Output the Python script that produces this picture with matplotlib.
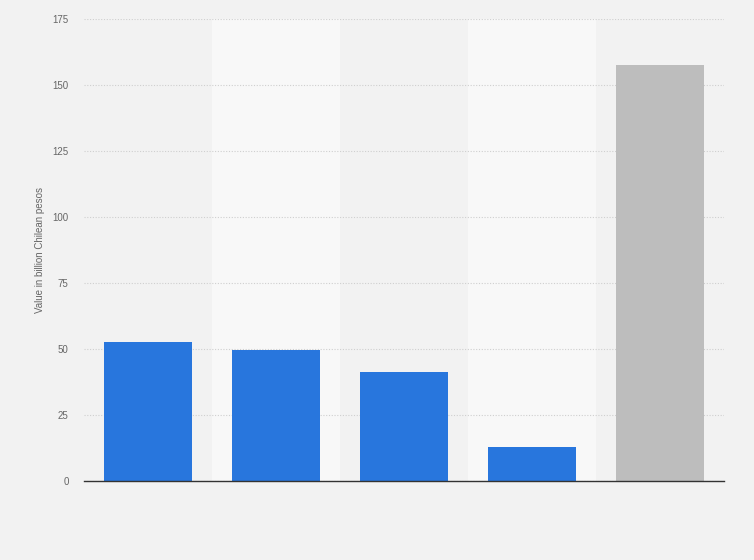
import matplotlib
matplotlib.use("Agg")
import matplotlib.pyplot as plt
from matplotlib import font_manager as fm

categories = ["A", "B", "C", "D", "Total"]
values = [52.5, 49.8, 41.2, 12.9, 157.7]
colors = ["#2876dd", "#2876dd", "#2876dd", "#2876dd", "#bdbdbd"]
yticks = [0, 25, 50, 75, 100, 125, 150, 175]
ylabel = "Value in billion Chilean pesos"

fprop = None
for f in fm.findSystemFonts():
    if f.endswith("LiberationSans-Regular.ttf"):
        fprop = fm.FontProperties(fname=f, size=7)
        break
if fprop is None:
    fprop = fm.FontProperties(family=['Liberation Sans', 'DejaVu Sans'], size=7)

fig = plt.figure(figsize=(7.54, 5.60), dpi=100)
fig.patch.set_facecolor("#f2f2f2")
ax = fig.add_axes([84/754, 1-481/560, 640/754, 462/560])
ax.set_facecolor("#f2f2f2")

x = list(range(len(categories)))
for i in x:
    if i % 2 == 1:
        ax.axvspan(i - 0.5, i + 0.5, color="#f8f8f8", zorder=0, lw=0)

ax.bar(x, values, width=0.69, color=colors, zorder=3, edgecolor="none")

ax.set_xlim(-0.5, len(categories) - 0.5)
ax.set_ylim(0, 175)
ax.set_yticks(yticks)
ax.set_yticklabels([str(t) for t in yticks], fontproperties=fprop, color="#666666")
ax.set_xticks([])
ax.tick_params(axis="y", length=0, pad=11)
ax.yaxis.grid(True, linestyle=(0, (1, 1.5)), color="#cfcfcf", linewidth=0.8, zorder=1)
for s in ["top", "right", "left"]:
    ax.spines[s].set_visible(False)
ax.spines["bottom"].set_color("#333333")
ax.spines["bottom"].set_linewidth(1.0)
ax.spines["bottom"].set_zorder(4)
ax.set_ylabel(ylabel, fontproperties=fprop, color="#666666")
ax.yaxis.set_label_coords((45 - 84) / 640, 0.5)

fig.savefig("out.png", dpi=100, facecolor=fig.get_facecolor())
